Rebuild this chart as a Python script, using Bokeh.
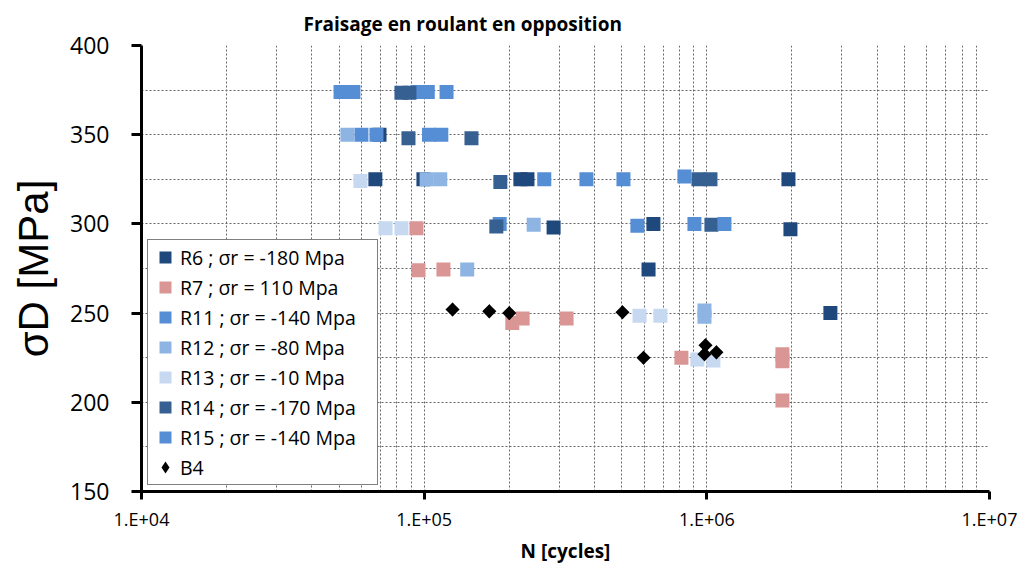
from bokeh.plotting import figure
from bokeh.models import Range1d, FixedTicker, CustomJSTickFormatter, Legend, LegendItem
from bokeh.embed import file_html
from bokeh.resources import INLINE
import math

# ---- data (N [cycles], sigma_D [MPa]) ----
r6_n = [69500, 67200, 99400, 219000, 232000, 1944000, 287000, 647000, 1976000, 622000, 2736000]
r6_s = [350, 325, 325, 325, 325, 325, 298, 300, 297, 274.5, 250]

r7_n = [93900, 95500, 117000, 205000, 223000, 319000, 813000, 1851000, 1851000, 1851000]
r7_s = [297.5, 274, 274.5, 244.5, 247, 247, 225, 227, 223, 201]

r11_n = [50600, 56200, 94700, 103000, 120000, 60000, 67800, 104000, 115000, 185000]
r11_s = [374, 374, 374, 374, 374, 350, 350, 350, 350, 300]

r12_n = [53500, 102000, 114000, 244000, 142000, 981000, 981000]
r12_s = [350, 325, 325, 299.5, 274.5, 251.5, 248]

r13_n = [59500, 73000, 83100, 578000, 685000, 926000, 1055000]
r13_s = [324, 297.5, 297.5, 248.5, 248.5, 224, 223.5]

r14_n = [83100, 88700, 88000, 147000, 186000, 180000, 934000, 1030000, 1038000]
r14_s = [373.5, 373.5, 348, 348, 323.5, 298.5, 325, 325, 299.5]

r15_n = [266000, 375000, 507000, 833000, 568000, 904000, 1154000]
r15_s = [325, 325, 325, 326.5, 299, 300, 300]

b4_n = [126000, 170000, 200000, 503000, 597000, 989000, 981000, 1081000]
b4_s = [252, 251, 250, 250.5, 225, 232, 227, 228]

series_names = ["R6 ; σr = -180 Mpa", "R7 ; σr = 110 Mpa", "R11 ; σr = -140 Mpa",
                "R12 ; σr = -80 Mpa", "R13 ; σr = -10 Mpa", "R14 ; σr = -170 Mpa",
                "R15 ; σr = -140 Mpa", "B4"]

x_ticks = [1e4, 1e5, 1e6, 1e7]
x_minor = [m * 10 ** e for e in (4, 5, 6) for m in range(2, 10)]
y_ticks = [150, 200, 250, 300, 350, 400]
y_minor = [175, 225, 275, 325, 375]

colors = ["#1F497D", "#D99694", "#558ED5", "#8DB4E2", "#C6D9F1", "#376092", "#558ED5"]

FONT = "Open Sans"

p = figure(width=1019, height=566, x_axis_type="log",
           x_range=Range1d(1e4, 1e7), y_range=Range1d(150, 400),
           output_backend="svg", toolbar_location=None,
           min_border_left=141, min_border_right=30, min_border_top=44, min_border_bottom=72,
           title="Fraisage en roulant en opposition")
p.outline_line_color = None
p.background_fill_color = "white"
p.border_fill_color = "white"

p.title.text_font = FONT
p.title.text_font_size = "19px"
p.title.text_font_style = "bold"
p.title.text_color = "black"
p.title.align = "left"
p.title.offset = 162
p.title.standoff = 17

# axes
xa = p.xaxis[0]
xa.ticker = FixedTicker(ticks=x_ticks, minor_ticks=x_minor)
xa.formatter = CustomJSTickFormatter(code="""
const e = Math.round(Math.log10(tick));
return "1.E+" + (e < 10 ? "0" + e : String(e));
""")
ya = p.yaxis[0]
ya.ticker = FixedTicker(ticks=y_ticks, minor_ticks=y_minor)

for ax in (xa, ya):
    ax.axis_line_color = "black"
    ax.axis_line_width = 3
    ax.major_tick_line_color = "black"
    ax.major_tick_line_width = 3
    ax.major_tick_in = 0
    ax.minor_tick_in = 0
    ax.minor_tick_out = 0
    ax.major_label_text_font = FONT
    ax.major_label_text_color = "black"
    ax.axis_label_text_color = "black"

xa.major_tick_out = 8
xa.major_label_text_font_size = "18px"
xa.major_label_standoff = 7
xa.axis_label = "N [cycles]"
xa.axis_label_text_font = FONT
xa.axis_label_text_font_size = "19px"
xa.axis_label_text_font_style = "bold"
xa.axis_label_standoff = 4

ya.major_tick_out = 10
ya.major_label_text_font_size = "23px"
ya.major_label_standoff = 22
ya.axis_label = "σD [MPa]"
ya.axis_label_text_font = "Liberation Sans"
ya.axis_label_text_font_size = "42px"
ya.axis_label_text_font_style = "normal"
ya.axis_label_standoff = 10

# grids
for g in (p.xgrid[0], p.ygrid[0]):
    g.grid_line_color = "#666666"
    g.grid_line_dash = "2 2"
    g.grid_line_width = 1
    g.minor_grid_line_color = "#666666"
    g.minor_grid_line_dash = "2 2"
    g.minor_grid_line_width = 1

# data
all_n = [r6_n, r7_n, r11_n, r12_n, r13_n, r14_n, r15_n]
all_s = [r6_s, r7_s, r11_s, r12_s, r13_s, r14_s, r15_s]
items = []
for name, n, s, c in zip(series_names[:7], all_n, all_s, colors):
    r = p.scatter(n, s, marker="square", size=14, fill_color=c, line_color=None)
    items.append(LegendItem(label=name, renderers=[r]))
# B4: narrow diamond (used for the legend), covered by a rotated square on the plot
rb_leg = p.scatter(b4_n, b4_s, marker="diamond", size=14,
                   fill_color="black", line_color=None)
p.scatter(b4_n, b4_s, marker="square", size=10, angle=math.pi / 4,
          fill_color="black", line_color=None)
items.append(LegendItem(label=series_names[7], renderers=[rb_leg]))

legend = Legend(items=items, location="bottom_left")
legend.margin = 6
legend.padding = 2
legend.spacing = 0
legend.glyph_width = 30
legend.glyph_height = 30
legend.label_height = 30
legend.label_width = 195
legend.label_standoff = 0
legend.label_text_font = FONT
legend.label_text_font_size = "19.5px"
legend.label_text_color = "black"
legend.border_line_color = "black"
legend.border_line_width = 1
legend.background_fill_color = "white"
legend.background_fill_alpha = 1.0
p.add_layout(legend, "center")

open("out.html", "w").write(file_html(p, INLINE))
